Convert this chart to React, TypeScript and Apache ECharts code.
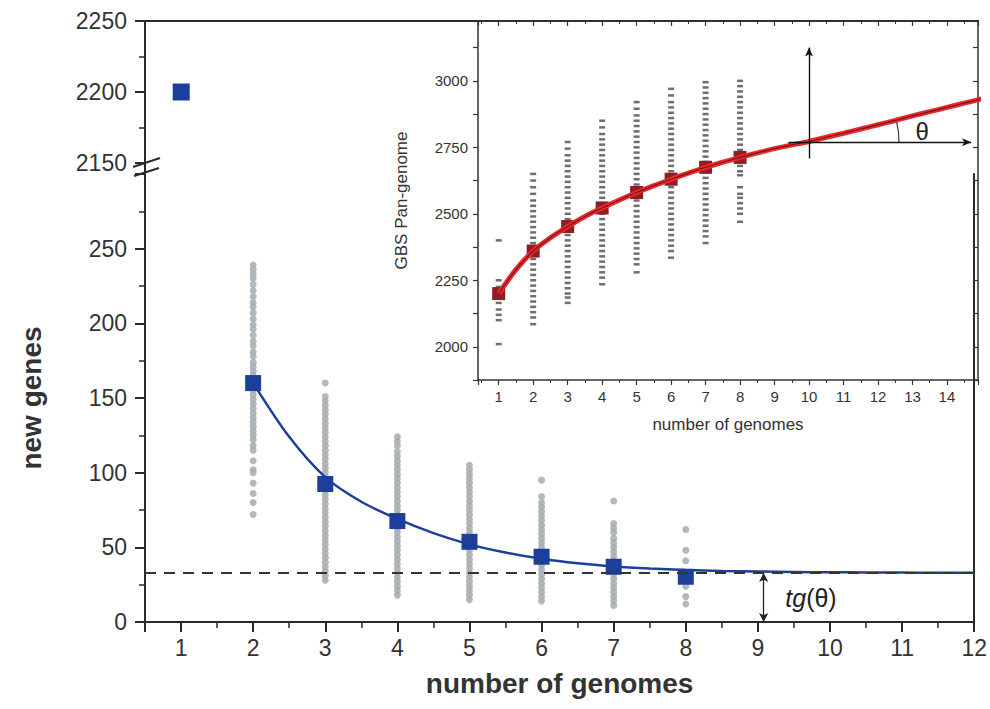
import React, { useEffect, useRef } from 'react';
import * as echarts from 'echarts';

const FONT = "'Liberation Sans', Arial, Helvetica, sans-serif";

// ---------- main chart: new genes ----------
const genomeCounts = [1, 2, 3, 4, 5, 6, 7, 8];
const newGeneMeans = [2200, 160, 92.4, 67.6, 53.7, 43.7, 37, 30.3];

const newGenes2 = [239, 236, 233, 230, 226, 222, 218, 214, 211, 207, 203, 199, 196, 192, 188, 185, 181, 178, 174, 171, 168, 165, 162, 158, 155, 152, 149, 146, 143, 140, 137, 134, 131, 128, 125, 122, 118, 115, 108, 102, 100, 93, 86, 80, 72];
const newGenes3 = [160, 151, 148, 145, 142, 139, 136, 133, 130, 127, 124, 121, 118, 115, 112, 109, 106, 103, 100, 97, 94, 91, 88, 85, 82, 79, 76, 73, 70, 67, 64, 61, 58, 55, 52, 49, 46, 43, 40, 37, 34, 31, 28];
const newGenes4 = [124, 121, 118, 114, 111, 108, 105, 102, 99, 96, 93, 90, 87, 84, 81, 78, 75, 72, 69, 66, 63, 60, 57, 54, 51, 48, 45, 42, 39, 36, 33, 30, 27, 24, 21, 18];
const newGenes5 = [105, 102, 99, 96, 93, 90, 87, 84, 81, 78, 75, 72, 69, 66, 63, 60, 57, 54, 51, 48, 45, 42, 39, 36, 33, 30, 27, 24, 21, 18, 15];
const newGenes6 = [95, 84, 80, 77, 74, 71, 68, 65, 62, 59, 56, 53, 50, 47, 44, 41, 38, 35, 32, 29, 26, 23, 20, 17, 14];
const newGenes7 = [81, 66, 63, 60, 56, 53, 50, 47, 44, 41, 38, 35, 32, 29, 26, 23, 20, 17, 14, 11];
const newGenes8 = [62, 48, 41, 31, 24, 17, 12];
const newGeneSamples = [[], newGenes2, newGenes3, newGenes4, newGenes5, newGenes6, newGenes7, newGenes8];

const newGeneFitX = [2, 2.5, 3, 3.5, 4, 4.5, 5, 5.5, 6, 6.5, 7, 7.5, 8, 8.5, 9, 9.5, 10, 10.5, 11, 11.5, 12];
const newGeneFitY = [160, 124, 97, 80.5, 69, 59.5, 52, 46.5, 42.3, 39.3, 37.2, 35.8, 34.8, 34.2, 33.8, 33.5, 33.3, 33.2, 33.1, 33, 33];
const tgTheta = 32.8;
const tgArrowX = 9.08;

// ---------- inset: pan-genome ----------
const panMeans = [2200, 2360, 2452, 2522, 2580, 2630, 2675, 2712];
const pan1 = [2400, 2250, 2225, 2205, 2185, 2165, 2140, 2120, 2100, 2010];
const pan2 = [2650, 2625, 2600, 2575, 2550, 2530, 2510, 2490, 2470, 2450, 2430, 2410, 2390, 2370, 2350, 2330, 2310, 2290, 2270, 2250, 2230, 2210, 2190, 2170, 2150, 2130, 2110, 2085];
const pan3 = [2770, 2745, 2720, 2700, 2680, 2660, 2640, 2620, 2600, 2580, 2560, 2540, 2520, 2500, 2480, 2460, 2440, 2420, 2400, 2380, 2360, 2340, 2320, 2300, 2280, 2260, 2240, 2220, 2200, 2185, 2165];
const pan4 = [2850, 2825, 2800, 2780, 2760, 2740, 2720, 2700, 2680, 2660, 2640, 2620, 2600, 2580, 2560, 2540, 2520, 2500, 2480, 2460, 2440, 2420, 2400, 2380, 2360, 2340, 2320, 2300, 2280, 2260, 2235];
const pan5 = [2920, 2895, 2870, 2850, 2830, 2810, 2790, 2770, 2750, 2730, 2710, 2690, 2670, 2650, 2630, 2610, 2590, 2570, 2550, 2530, 2510, 2490, 2470, 2450, 2430, 2410, 2390, 2370, 2350, 2330, 2310, 2280];
const pan6 = [2970, 2945, 2920, 2900, 2880, 2860, 2840, 2820, 2800, 2780, 2760, 2740, 2720, 2700, 2680, 2660, 2640, 2620, 2600, 2580, 2560, 2540, 2520, 2500, 2480, 2460, 2440, 2420, 2400, 2380, 2360, 2335];
const pan7 = [2995, 2975, 2955, 2935, 2915, 2895, 2875, 2855, 2835, 2815, 2795, 2775, 2755, 2735, 2715, 2695, 2675, 2655, 2635, 2615, 2595, 2575, 2555, 2535, 2515, 2495, 2475, 2455, 2435, 2415, 2390];
const pan8 = [3000, 2980, 2960, 2940, 2920, 2900, 2880, 2860, 2840, 2820, 2800, 2780, 2760, 2740, 2720, 2700, 2680, 2660, 2645, 2600, 2575, 2560, 2540, 2520, 2500, 2470];
const panSamples = [pan1, pan2, pan3, pan4, pan5, pan6, pan7, pan8];

const panFitX = [1, 1.5, 2, 2.5, 3, 3.5, 4, 4.5, 5, 5.5, 6, 6.5, 7, 7.5, 8, 8.5, 9, 9.5, 10, 10.5, 11, 11.5, 12, 12.5, 13, 13.5, 14, 14.5, 15];
const panFitY = [2200, 2290, 2360, 2410, 2452, 2490, 2522, 2552, 2580, 2606, 2630, 2653, 2675, 2694, 2712, 2729, 2745, 2759, 2772, 2788, 2803, 2819, 2835, 2851, 2868, 2884, 2900, 2916, 2932];

const BLUE = '#1d3f9c';
const AX = '#2a2a2a';

const axisLine = { show: true, onZero: false, lineStyle: { color: AX, width: 2 } };
const insetLine = { show: true, onZero: false, lineStyle: { color: '#333', width: 1.5 } };

function buildOption(): any {
  const mainScatter: number[][] = [];
  newGeneSamples.forEach((arr, i) => arr.forEach((v) => mainScatter.push([genomeCounts[i], v])));
  const panScatter: number[][] = [];
  panSamples.forEach((arr, i) => arr.forEach((v) => panScatter.push([genomeCounts[i], v])));
  const upperMeans = genomeCounts.map((g, i) => [g, newGeneMeans[i]]).filter((d) => d[1] > 1000);
  const lowerMeans = genomeCounts.map((g, i) => [g, newGeneMeans[i]]).filter((d) => d[1] <= 1000);
  const fit = newGeneFitX.map((x, i) => [x, newGeneFitY[i]]);
  const panFit = panFitX.map((x, i) => [x, panFitY[i]]);
  const panMeanData = genomeCounts.map((g, i) => [g, panMeans[i]]);
  const plain = (v: number) => String(v);

  return {
    animation: false,
    backgroundColor: '#ffffff',
    textStyle: { fontFamily: FONT },
    grid: [
      { left: 145, top: 21, width: 833, height: 142 },
      { left: 145, top: 174, width: 833, height: 448 },
      { left: 478, top: 21, width: 500, height: 359 },
    ],
    xAxis: [
      {
        gridIndex: 0, type: 'value', position: 'top', min: 0.5, max: 12,
        axisLine, axisTick: { show: false }, axisLabel: { show: false }, splitLine: { show: false },
      },
      {
        gridIndex: 1, type: 'value', position: 'bottom', min: 0.5, max: 12, splitNumber: 12,
        axisLine,
        axisTick: { show: true, length: 10, lineStyle: { color: AX, width: 2 } },
        axisLabel: {
          fontSize: 23, color: '#333', margin: 14, fontFamily: FONT,
          formatter: (v: number) => (Number.isInteger(v) ? String(v) : ''),
        },
        splitLine: { show: false },
        name: 'number of genomes', nameLocation: 'middle', nameGap: 47,
        nameTextStyle: { fontSize: 28, fontWeight: 'bold', color: '#333', fontFamily: FONT },
      },
      {
        gridIndex: 1, type: 'value', position: 'bottom', min: 0.5, max: 12, interval: 1,
        axisLine: { show: false, onZero: false },
        axisTick: { show: true, length: 6, lineStyle: { color: AX, width: 1.5 } },
        axisLabel: { show: false }, splitLine: { show: false },
      },
      {
        gridIndex: 2, type: 'value', position: 'bottom', min: 0.4, max: 14.9, splitNumber: 14,
        axisLine: insetLine,
        axisTick: { show: true, length: 5, lineStyle: { color: '#333', width: 1.2 } },
        minorTick: { show: true, splitNumber: 2, length: 3, lineStyle: { color: '#333', width: 1 } },
        axisLabel: {
          fontSize: 15, color: '#333', margin: 9, fontFamily: FONT,
          formatter: (v: number) => (Number.isInteger(v) ? String(v) : ''),
        },
        splitLine: { show: false }, minorSplitLine: { show: false },
        name: 'number of genomes', nameLocation: 'middle', nameGap: 36,
        nameTextStyle: { fontSize: 17, color: '#333', fontFamily: FONT },
      },
      {
        gridIndex: 2, type: 'value', position: 'top', min: 0.4, max: 14.9, splitNumber: 14,
        axisLine: insetLine,
        axisTick: { show: true, inside: true, length: 5, lineStyle: { color: '#333', width: 1.2 } },
        minorTick: { show: true, splitNumber: 2, length: 3, lineStyle: { color: '#333', width: 1 } },
        axisLabel: { show: false }, splitLine: { show: false }, minorSplitLine: { show: false },
      },
    ],
    yAxis: [
      {
        gridIndex: 0, type: 'value', position: 'left', min: 2150, max: 2250, interval: 50,
        axisLine,
        axisTick: { show: true, length: 10, lineStyle: { color: AX, width: 2 } },
        minorTick: { show: true, splitNumber: 2, length: 6, lineStyle: { color: AX, width: 1.5 } },
        axisLabel: { fontSize: 23, color: '#333', margin: 18, fontFamily: FONT, formatter: plain },
        splitLine: { show: false }, minorSplitLine: { show: false },
      },
      {
        gridIndex: 1, type: 'value', position: 'left', min: 0, max: 300, interval: 50,
        axisLine,
        axisTick: { show: true, length: 10, lineStyle: { color: AX, width: 2 } },
        minorTick: { show: true, splitNumber: 2, length: 6, lineStyle: { color: AX, width: 1.5 } },
        axisLabel: { fontSize: 23, color: '#333', margin: 18, fontFamily: FONT, showMaxLabel: false,
          formatter: (v: number) => (v < 300 ? String(v) : '') },
        splitLine: { show: false }, minorSplitLine: { show: false },
        name: 'new genes', nameLocation: 'middle', nameGap: 100,
        nameTextStyle: { fontSize: 28, fontWeight: 'bold', color: '#333', fontFamily: FONT },
      },
      {
        gridIndex: 1, type: 'value', position: 'right', min: 0, max: 300,
        axisLine, axisTick: { show: false }, axisLabel: { show: false }, splitLine: { show: false },
      },
      {
        gridIndex: 2, type: 'value', position: 'left', min: 1875, max: 3225, interval: 125,
        axisLine: insetLine,
        axisTick: { show: true, length: 5, lineStyle: { color: '#333', width: 1.2 } },
        axisLabel: {
          fontSize: 15, color: '#333', margin: 10, fontFamily: FONT,
          formatter: (v: number) => (v % 250 === 0 ? String(v) : ''),
        },
        splitLine: { show: false },
        name: 'GBS Pan-genome', nameLocation: 'middle', nameGap: 68,
        nameTextStyle: { fontSize: 17, color: '#333', fontFamily: FONT },
      },
      {
        gridIndex: 2, type: 'value', position: 'right', min: 1875, max: 3225, interval: 125,
        axisLine: insetLine,
        axisTick: { show: true, inside: true, length: 5, lineStyle: { color: '#333', width: 1.2 } },
        axisLabel: { show: false }, splitLine: { show: false },
      },
    ],
    series: [
      {
        type: 'scatter', xAxisIndex: 0, yAxisIndex: 0, data: upperMeans,
        symbol: 'rect', symbolSize: 17, itemStyle: { color: BLUE, opacity: 1 }, silent: true,
      },
      {
        type: 'scatter', xAxisIndex: 1, yAxisIndex: 1, data: mainScatter,
        symbol: 'circle', symbolSize: 7, itemStyle: { color: '#a6abb1', opacity: 0.85 }, silent: true,
      },
      {
        type: 'line', xAxisIndex: 1, yAxisIndex: 1, data: fit, smooth: 0.3,
        symbol: 'none', showSymbol: false, lineStyle: { color: BLUE, width: 2.5 }, silent: true,
        markLine: {
          silent: true, symbol: ['none', 'none'], label: { show: false },
          lineStyle: { type: [11, 8], color: '#333', width: 2 },
          data: [{ yAxis: tgTheta }],
        },
      },
      {
        type: 'scatter', xAxisIndex: 1, yAxisIndex: 1, data: lowerMeans,
        symbol: 'rect', symbolSize: 16, itemStyle: { color: BLUE, opacity: 1 }, silent: true,
        markLine: {
          silent: true, symbol: ['arrow', 'arrow'], symbolSize: [7, 9], label: { show: false },
          lineStyle: { type: 'solid', color: '#222', width: 1.3 },
          data: [[{ coord: [tgArrowX, tgTheta] }, { coord: [tgArrowX, 0] }]],
        },
      },
      {
        type: 'scatter', xAxisIndex: 3, yAxisIndex: 3, data: panScatter,
        symbol: 'rect', symbolSize: [6, 2.5], itemStyle: { color: '#555', opacity: 0.85 }, silent: true,
      },
      {
        type: 'line', xAxisIndex: 3, yAxisIndex: 3, data: panFit, smooth: 0.3,
        symbol: 'none', showSymbol: false, lineStyle: { color: '#e8282c', width: 5 }, silent: true,
      },
      {
        type: 'line', xAxisIndex: 3, yAxisIndex: 3, data: panFit, smooth: 0.3,
        symbol: 'none', showSymbol: false, lineStyle: { color: '#7c1515', width: 1.2 }, silent: true,
      },
      {
        type: 'scatter', xAxisIndex: 3, yAxisIndex: 3, data: panMeanData,
        symbol: 'rect', symbolSize: 13, itemStyle: { color: '#921c24', opacity: 1 }, silent: true,
        markLine: {
          silent: true, symbol: ['none', 'arrow'], symbolSize: [6, 9], label: { show: false },
          lineStyle: { type: 'solid', color: '#111', width: 1.4 },
          data: [
            [{ coord: [10, 2708] }, { coord: [10, 3125] }],
            [{ coord: [9.4, 2769] }, { coord: [14.7, 2769] }],
          ],
        },
      },
    ],
  };
}

export default function App() {
  const ref = useRef<HTMLDivElement>(null);
  useEffect(() => {
    document.body.style.margin = '0';
    const chart = echarts.init(ref.current!, null, { renderer: 'svg' });
    chart.setOption(buildOption());

    const mainPx = (v: number[]) => chart.convertToPixel({ xAxisIndex: 1, yAxisIndex: 1 }, v) as number[];
    const insetPx = (v: number[]) => chart.convertToPixel({ xAxisIndex: 3, yAxisIndex: 3 }, v) as number[];
    const tgPos = mainPx([9.38, 16]);
    const thetaPos = insetPx([13.28, 2811]);
    const vertex = insetPx([10, 2769]);

    chart.setOption({
      graphic: [
        { type: 'line', shape: { x1: 145, y1: 162, x2: 145, y2: 175 }, style: { stroke: AX, lineWidth: 2 } },
        { type: 'line', shape: { x1: 133, y1: 167, x2: 160, y2: 158 }, style: { stroke: AX, lineWidth: 2 } },
        { type: 'line', shape: { x1: 134, y1: 176, x2: 159, y2: 168 }, style: { stroke: AX, lineWidth: 2 } },
        {
          type: 'text', x: tgPos[0], y: tgPos[1],
          style: {
            text: '{a|tg}{b|(θ)}', verticalAlign: 'middle', align: 'left',
            rich: {
              a: { fontStyle: 'italic', fontSize: 25, fontFamily: FONT, fill: '#222' },
              b: { fontSize: 25, fontFamily: FONT, fill: '#222' },
            },
          },
        },
        {
          type: 'text', x: thetaPos[0], y: thetaPos[1],
          style: { text: 'θ', fontSize: 24, fontFamily: FONT, fill: '#222', align: 'center', verticalAlign: 'middle' },
        },
        {
          type: 'arc',
          shape: { cx: vertex[0], cy: vertex[1], r: 90, startAngle: -0.24, endAngle: 0 },
          style: { stroke: '#333', lineWidth: 1.2, fill: 'none' },
        },
      ],
    });
    return () => chart.dispose();
  }, []);
  return <div ref={ref} style={{ width: 990, height: 709 }} />;
}
